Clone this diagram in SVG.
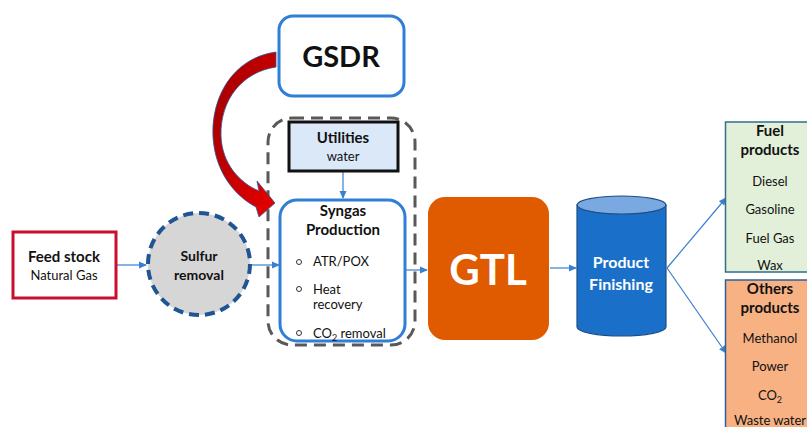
<svg xmlns="http://www.w3.org/2000/svg" width="807" height="427" viewBox="0 0 807 427">
<defs>
<marker id="ah" markerWidth="8" markerHeight="8" refX="7" refY="4" orient="auto" markerUnits="userSpaceOnUse">
<path d="M0,0.5 L8,4 L0,7.5 Z" fill="#3a7fd0"/>
</marker>
<linearGradient id="red" x1="0" y1="0" x2="1" y2="1">
<stop offset="0" stop-color="#9e0000"/>
<stop offset="1" stop-color="#e80000"/>
</linearGradient>
</defs>
<style>
text{font-family:Lato,"Liberation Sans",sans-serif;fill:#111;text-anchor:middle}
.b{font-weight:bold}
.s{font-size:13px}
.m{font-size:15px}
.conn{stroke:#3a7fd0;stroke-width:1.2;fill:none;marker-end:url(#ah)}
.bl{text-anchor:start}
</style>
<rect width="807" height="427" fill="#fff"/>

<g id="connectors">
<line class="conn" x1="117" y1="265" x2="146" y2="265"/>
<line class="conn" x1="251" y1="265" x2="279" y2="265"/>
<line class="conn" x1="343" y1="172" x2="343" y2="198"/>
<line class="conn" x1="405" y1="270" x2="427" y2="270"/>
<line class="conn" x1="550" y1="268" x2="576" y2="268"/>
<line class="conn" x1="667" y1="268" x2="726" y2="198"/>
<line class="conn" x1="667" y1="268" x2="726" y2="353"/>
</g>

<g id="feedstock">
<rect x="13" y="232" width="103" height="66" fill="#fff" stroke="#c8102e" stroke-width="3"/>
<text x="64" y="262" class="b m">Feed stock</text>
<text x="64" y="280" class="s">Natural Gas</text>
</g>

<g id="sulfur">
<circle cx="199" cy="264" r="51" fill="#d6d6d6" stroke="#1f5592" stroke-width="4" stroke-dasharray="10 6"/>
<text x="199" y="261" class="b" font-size="14">Sulfur</text>
<text x="199" y="280" class="b" font-size="14">removal</text>
</g>

<g id="container">
<rect x="268" y="118" width="147" height="227" rx="24" fill="none" stroke="#595959" stroke-width="3" stroke-dasharray="12 7"/>
</g>

<g id="gsdr">
<rect x="279" y="16" width="125" height="80" rx="14" fill="#fff" stroke="#2f7ed8" stroke-width="3"/>
<text x="341" y="67" class="b" font-size="29">GSDR</text>
</g>

<g id="gsdr-arrow">
<path d="M 276 52 C 232 58, 211 98, 213 137 C 215 172, 235 196, 256 207 L 259 217 L 275 203 L 257 181 L 259 191 C 240 183, 222 164, 221 136 C 220 100, 242 72, 276 67 Z" fill="url(#red)" stroke="#2f5597" stroke-width="0.8"/>
</g>

<g id="utilities">
<rect x="289" y="122" width="109" height="49" fill="#dae8f8" stroke="#111" stroke-width="3"/>
<text x="343" y="143" class="b m">Utilities</text>
<text x="343" y="161" class="s">water</text>
</g>

<g id="syngas">
<rect x="280" y="200" width="125" height="141" rx="17" fill="#fff" stroke="#2f7ed8" stroke-width="3"/>
<text x="343" y="216" class="b m">Syngas</text>
<text x="343" y="235" class="b m">Production</text>
<circle cx="299" cy="262" r="2.5" fill="none" stroke="#333" stroke-width="1"/>
<text x="313" y="266" class="s bl">ATR/POX</text>
<circle cx="299" cy="289" r="2.5" fill="none" stroke="#333" stroke-width="1"/>
<text x="313" y="294" class="s bl">Heat</text>
<text x="313" y="309" class="s bl">recovery</text>
<circle cx="299" cy="333" r="2.5" fill="none" stroke="#333" stroke-width="1"/>
<text x="313" y="338" class="s bl">CO<tspan font-size="9" dy="3">2</tspan><tspan dy="-3"> removal</tspan></text>
</g>

<g id="gtl">
<rect x="428" y="197" width="121" height="143" rx="17" fill="#e05a00"/>
<text x="488" y="285" class="b" font-size="42" style="fill:#fff">GTL</text>
</g>

<g id="finishing">
<path d="M 577 205 L 577 327 A 44.5 9 0 0 0 666 327 L 666 205 Z" fill="#1a70c8" stroke="#1f4e85" stroke-width="1.2"/>
<ellipse cx="621.5" cy="205" rx="44.5" ry="9" fill="#7aa8e0" stroke="#1f4e85" stroke-width="1.2"/>
<text x="621" y="268" class="b" font-size="16" style="fill:#fff">Product</text>
<text x="621" y="290" class="b" font-size="16" style="fill:#fff">Finishing</text>
</g>

<g id="fuel">
<rect x="725.5" y="122" width="90" height="150" fill="#e2f0d9" stroke="#2f6f8f" stroke-width="1.5"/>
<text x="770" y="136" class="b m">Fuel</text>
<text x="770" y="155" class="b m">products</text>
<text x="770" y="186" class="s">Diesel</text>
<text x="770" y="214" class="s">Gasoline</text>
<text x="770" y="243" class="s">Fuel Gas</text>
<text x="770" y="270" class="s">Wax</text>
</g>

<g id="others">
<rect x="725.5" y="280" width="90" height="160" fill="#f7b183" stroke="#2f5f9a" stroke-width="1.5"/>
<text x="770" y="294" class="b m">Others</text>
<text x="770" y="313" class="b m">products</text>
<text x="770" y="343" class="s">Methanol</text>
<text x="770" y="371" class="s">Power</text>
<text x="770" y="400" class="s">CO<tspan font-size="9" dy="3">2</tspan></text>
<text x="770" y="425" class="s">Waste water</text>
</g>
</svg>
